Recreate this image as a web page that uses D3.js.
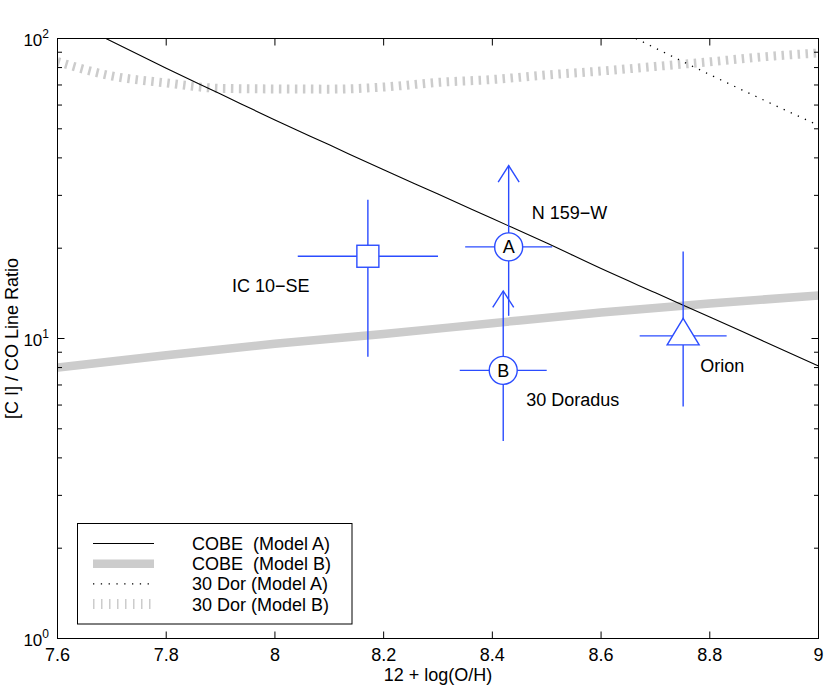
<!DOCTYPE html>
<html>
<head>
<meta charset="utf-8">
<script src="https://cdn.jsdelivr.net/npm/d3@7"></script>
<style>
  html, body { margin: 0; padding: 0; background: #fff; }
  svg text { font-family: "Liberation Sans", Arial, Helvetica, sans-serif; }
</style>
</head>
<body>
<svg id="chart" width="830" height="688"></svg>
<script>
// ---------- data ----------
const xTicks = [7.6, 7.8, 8, 8.2, 8.4, 8.6, 8.8, 9];
const xTickLabels = ["7.6", "7.8", "8", "8.2", "8.4", "8.6", "8.8", "9"];
const yDecadeExps = [0, 1, 2];

const cobeA_x = [7.689, 7.8, 7.9, 8.0, 8.1, 8.2, 8.3, 8.4, 8.5, 8.6, 8.7, 8.8, 8.9, 9.0];
const cobeA_y = [100, 79.6, 65.3, 53.5, 44.2, 36.5, 30.3, 25.1, 20.8, 17.1, 14.2, 11.8, 9.77, 8.1];

const cobeB_x = [7.6, 7.8, 8.0, 8.2, 8.4, 8.6, 8.8, 9.0];
const cobeB_y = [8.0, 8.79, 9.6, 10.35, 11.25, 12.2, 13.08, 13.92];

const dorA_x = [8.664, 8.8, 9.0];
const dorA_y = [100, 75.8, 51.3];

const dorB_x = [7.6, 7.7, 7.8, 7.9, 8.0, 8.1, 8.2, 8.3, 8.4, 8.5, 8.6, 8.7, 8.8, 8.9, 9.0];
const dorB_y = [83.7, 75.0, 71.1, 68.2, 67.9, 67.8, 68.9, 71.4, 73.0, 75.6, 77.9, 80.7, 83.6, 86.9, 89.5];

const srcNames  = ["IC 10\u2212SE", "N 159\u2212W", "30 Doradus", "Orion"];
const srcX      = [8.171, 8.430, 8.420, 8.751];
const srcY      = [18.8, 20.2, 7.83, 10.2];
const srcXErr   = [0.129, 0.08, 0.08, 0.08];
const srcYLow   = [8.7, 11.9, 4.55, 5.93];
const srcYHigh  = [29.0, 37.7, 14.4, 19.5];
const srcMarker = ["square", "circle", "circle", "triangle"];
const srcLetter = ["", "A", "B", ""];
const srcArrow  = [false, true, true, false];
const srcLabelDx = [-136, 23, 23, 17];
const srcLabelDy = [36, -28, 36, 36];

const legendLabels = ["COBE  (Model A)", "COBE  (Model B)", "30 Dor (Model A)", "30 Dor (Model B)"];

// ---------- layout ----------
const L = 57.5, R = 818.5, T = 38.5, B = 638.5;
const BLUE = "#2b4cff", GRAY = "#cccccc";
const FS = 18;

const svg = d3.select("#chart");
const x = d3.scaleLinear().domain([7.6, 9]).range([L, R]);
const y = d3.scaleLog().domain([1, 100]).range([B, T]);

svg.append("defs").append("clipPath").attr("id", "plotclip")
  .append("rect").attr("x", L).attr("y", T).attr("width", R - L).attr("height", B - T);

const plot = svg.append("g").attr("clip-path", "url(#plotclip)");
const line = d3.line().x(d => x(d[0])).y(d => y(d[1])).curve(d3.curveMonotoneX);
const zip = (a, b) => a.map((v, i) => [v, b[i]]);

const styles = [
  { stroke: "#000", width: 1.1, dash: null },
  { stroke: GRAY, width: 8.5, dash: null },
  { stroke: "#000", width: 1.3, dash: "1.3 6.5" },
  { stroke: GRAY, width: 9, dash: "2.5 5.5" }
];

// model curves (draw order: 30 Dor B, COBE B, COBE A, 30 Dor A)
const curves = [
  { d: zip(dorB_x, dorB_y), s: styles[3] },
  { d: zip(cobeB_x, cobeB_y), s: styles[1] },
  { d: zip(cobeA_x, cobeA_y), s: styles[0] },
  { d: zip(dorA_x, dorA_y), s: styles[2] }
];
curves.forEach(c => {
  plot.append("path").datum(c.d).attr("d", line)
    .attr("fill", "none").attr("stroke", c.s.stroke)
    .attr("stroke-width", c.s.width)
    .attr("stroke-dasharray", c.s.dash);
});

// ---------- data points ----------
const pts = svg.append("g");
srcX.forEach((sx, i) => {
  const cx = x(sx), cy = y(srcY[i]);
  const g = pts.append("g").attr("stroke", BLUE).attr("stroke-width", 1.4).attr("fill", "none");
  g.append("line").attr("x1", x(sx - srcXErr[i])).attr("x2", x(sx + srcXErr[i]))
    .attr("y1", cy).attr("y2", cy);
  const yTop = y(srcYHigh[i]);
  g.append("line").attr("x1", cx).attr("x2", cx)
    .attr("y1", y(srcYLow[i])).attr("y2", yTop);
  if (srcArrow[i]) {
    g.append("path").attr("d", `M${cx - 10.5},${yTop + 16.5}L${cx},${yTop}L${cx + 10.5},${yTop + 16.5}`);
  }
  if (srcMarker[i] === "square") {
    g.append("rect").attr("x", cx - 11).attr("y", cy - 11).attr("width", 22).attr("height", 22)
      .attr("fill", "#fff");
  } else if (srcMarker[i] === "circle") {
    g.append("circle").attr("cx", cx).attr("cy", cy).attr("r", 14).attr("fill", "#fff");
    pts.append("text").attr("x", cx).attr("y", cy + 6.5).attr("text-anchor", "middle")
      .attr("font-size", FS).attr("fill", "#000").text(srcLetter[i]);
  } else if (srcMarker[i] === "triangle") {
    g.append("path").attr("d", `M${cx},${cy - 17.5}L${cx + 16},${cy + 9}L${cx - 16},${cy + 9}Z`)
      .attr("fill", "#fff");
  }
  pts.append("text").attr("x", cx + srcLabelDx[i]).attr("y", cy + srcLabelDy[i])
    .attr("font-size", FS).attr("fill", "#000").text(srcNames[i]);
});

// ---------- axes ----------
const ax = svg.append("g").attr("stroke", "#000").attr("stroke-width", 1);
ax.append("rect").attr("x", L).attr("y", T).attr("width", R - L).attr("height", B - T).attr("fill", "none");

xTicks.forEach((t, i) => {
  const px = x(t);
  if (i > 0 && i < xTicks.length - 1) {
    ax.append("line").attr("x1", px).attr("x2", px).attr("y1", B).attr("y2", B - 7);
    ax.append("line").attr("x1", px).attr("x2", px).attr("y1", T).attr("y2", T + 7);
  }
  svg.append("text").attr("x", px).attr("y", 661).attr("text-anchor", "middle")
    .attr("font-size", FS).text(xTickLabels[i]);
});

const yMinor = [];
for (let e = 0; e < 2; e++) for (let m = 2; m <= 9; m++) yMinor.push(m * Math.pow(10, e));
yMinor.forEach(v => {
  const py = y(v);
  ax.append("line").attr("x1", L).attr("x2", L + 4.5).attr("y1", py).attr("y2", py);
  ax.append("line").attr("x1", R).attr("x2", R - 4.5).attr("y1", py).attr("y2", py);
});
yDecadeExps.forEach(e => {
  const py = y(Math.pow(10, e));
  if (e === 1) {
    ax.append("line").attr("x1", L).attr("x2", L + 7).attr("y1", py).attr("y2", py);
    ax.append("line").attr("x1", R).attr("x2", R - 7).attr("y1", py).attr("y2", py);
  }
  const t = svg.append("text").attr("x", 49).attr("y", py + 7).attr("text-anchor", "end")
    .attr("font-size", FS - 1);
  t.append("tspan").text("10");
  t.append("tspan").attr("font-size", 12).attr("dy", -8).text(String(e));
});

// axis labels
svg.append("text").attr("x", (L + R) / 2).attr("y", 681).attr("text-anchor", "middle")
  .attr("font-size", FS).text("12 + log(O/H)");
svg.append("text").attr("transform", `translate(18,${(T + B) / 2}) rotate(-90)`)
  .attr("text-anchor", "middle").attr("font-size", FS).text("[C I] / CO Line Ratio");

// ---------- legend ----------
const lg = svg.append("g");
lg.append("rect").attr("x", 77.5).attr("y", 523.5).attr("width", 274.5).attr("height", 100.5)
  .attr("fill", "#fff").attr("stroke", "#000").attr("stroke-width", 1);
const legStyles = [styles[0], styles[1], styles[2], { stroke: GRAY, width: 10, dash: "1.5 6.5" }];
legendLabels.forEach((lab, i) => {
  const ry = 543.5 + i * 20.2;
  const s = legStyles[i];
  lg.append("line").attr("x1", 93).attr("x2", 154).attr("y1", ry).attr("y2", ry)
    .attr("stroke", s.stroke).attr("stroke-width", s.width).attr("stroke-dasharray", s.dash);
  lg.append("text").attr("x", 192).attr("y", ry + 6.5).attr("font-size", FS)
    .attr("xml:space", "preserve").style("white-space", "pre").text(lab);
});
</script>
</body>
</html>
